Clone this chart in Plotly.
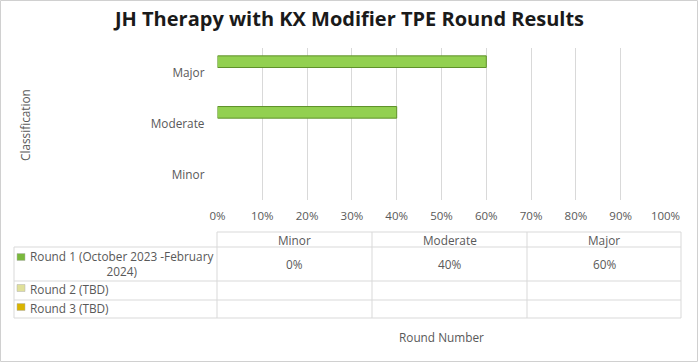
import plotly.graph_objects as go

W, H = 699, 363

categories = ["Minor", "Moderate", "Major"]
series_names = ["Round 1 (October 2023 -February 2024)", "Round 2 (TBD)", "Round 3 (TBD)"]
round1 = [0, 40, 60]
round2 = [None, None, None]
round3 = [None, None, None]
table_r1 = ["0%", "40%", "60%"]
x_ticks = list(range(0, 101, 10))
x_tick_labels = [f"{v}%" for v in x_ticks]

FONT = "Open Sans"
GRAY = "#595959"
GRID = "#d9d9d9"
FS = 11.8

def px(x):
    return x / W

def py(y):
    return 1 - y / H

fig = go.Figure()
# plotly places grouped horizontal bars bottom-up by trace order; add Round 3 first so Round 1 is on top
fig.add_trace(go.Bar(y=categories, x=round3, orientation="h", name=series_names[2],
                     marker=dict(color="#d4b000")))
fig.add_trace(go.Bar(y=categories, x=round2, orientation="h", name=series_names[1],
                     marker=dict(color="#dede9a")))
fig.add_trace(go.Bar(y=categories, x=round1, orientation="h", name=series_names[0],
                     marker=dict(color="#92d050",
                                 line=dict(color="#5f922a", width=[0, 1, 1]))))

fig.update_layout(
    width=W, height=H, autosize=False,
    margin=dict(l=0, r=0, t=0, b=0, autoexpand=False),
    paper_bgcolor="white", plot_bgcolor="white",
    showlegend=False,
    barmode="group", bargap=0.31, bargroupgap=0,
    font=dict(family=FONT, size=FS, color=GRAY),
    title=dict(text="<b>JH Therapy with KX Modifier TPE Round Results</b>",
               x=0.5, xanchor="center", y=py(19), yanchor="middle",
               font=dict(family=FONT, size=20, color="#1a1a1a")),
    xaxis=dict(domain=[px(217.5), px(665.5)], range=[0, 100], tickvals=x_ticks,
               ticktext=x_tick_labels, showgrid=True, gridcolor=GRID, gridwidth=1,
               zeroline=False, showline=False, ticks="", ticklabelstandoff=7,
               automargin=False,
               tickfont=dict(size=11.5, color=GRAY), fixedrange=True),
    yaxis=dict(domain=[py(200), py(48)], showgrid=False, zeroline=False, showline=False,
               ticks="", ticklabelstandoff=12, tickfont=dict(size=FS, color=GRAY),
               automargin=False,
               categoryorder="array", categoryarray=categories, fixedrange=True),
)

shapes = []
def line(x0, y0, x1, y1):
    shapes.append(dict(type="line", xref="paper", yref="paper", x0=px(x0), y0=py(y0),
                       x1=px(x1), y1=py(y1), line=dict(color=GRID, width=1)))

# chart border
shapes.append(dict(type="rect", xref="paper", yref="paper", x0=px(0.5), y0=py(361.5),
                   x1=px(697.5), y1=py(0.5), line=dict(color="#d0d0d0", width=1)))

col_x = [217, 372, 527, 681]
row_y = [232, 247, 281, 300, 318]
left_x = 14
line(col_x[0], row_y[0], col_x[-1], row_y[0])
for y in row_y[1:]:
    line(left_x, y, col_x[-1], y)
for x in col_x:
    line(x, row_y[0], x, row_y[-1])
line(left_x, row_y[1], left_x, row_y[-1])

annotations = []
def text(x, y, s, xanchor="center", size=FS, color=GRAY, **kw):
    annotations.append(dict(x=px(x), y=py(y), xref="paper", yref="paper", text=s,
                            showarrow=False, xanchor=xanchor, yanchor="middle",
                            font=dict(family=FONT, size=size, color=color), **kw))

for i, c in enumerate(categories):
    cx = (col_x[i] + col_x[i + 1]) / 2
    text(cx, 240, c)
    text(cx, 264, table_r1[i])

swatch_colors = ["#7ab83c", "#e0e09a", "#d9b400"]
swatch_y = [257, 288, 307]
for col, sy in zip(swatch_colors, swatch_y):
    shapes.append(dict(type="rect", xref="paper", yref="paper", x0=px(17), x1=px(25),
                       y0=py(sy + 3.5), y1=py(sy - 3.5), fillcolor=col,
                       line=dict(color="#b0b0b0", width=0.5)))

text(121, 263.5, "Round 1 (October 2023 -February<br>2024)", align="center")
text(28, 289, series_names[1], xanchor="left")
text(28, 308, series_names[2], xanchor="left")

text(441, 337, "Round Number")
text(25, 125, "Classification", textangle=-90)

fig.update_layout(shapes=shapes, annotations=annotations)
fig.write_html(
    "out.html",
    config={"displayModeBar": False, "responsive": False},
    post_script=("var d=document.getElementById('{plot_id}');"
                 "d.style.position='fixed';d.style.left='0px';d.style.top='0px';"),
)
